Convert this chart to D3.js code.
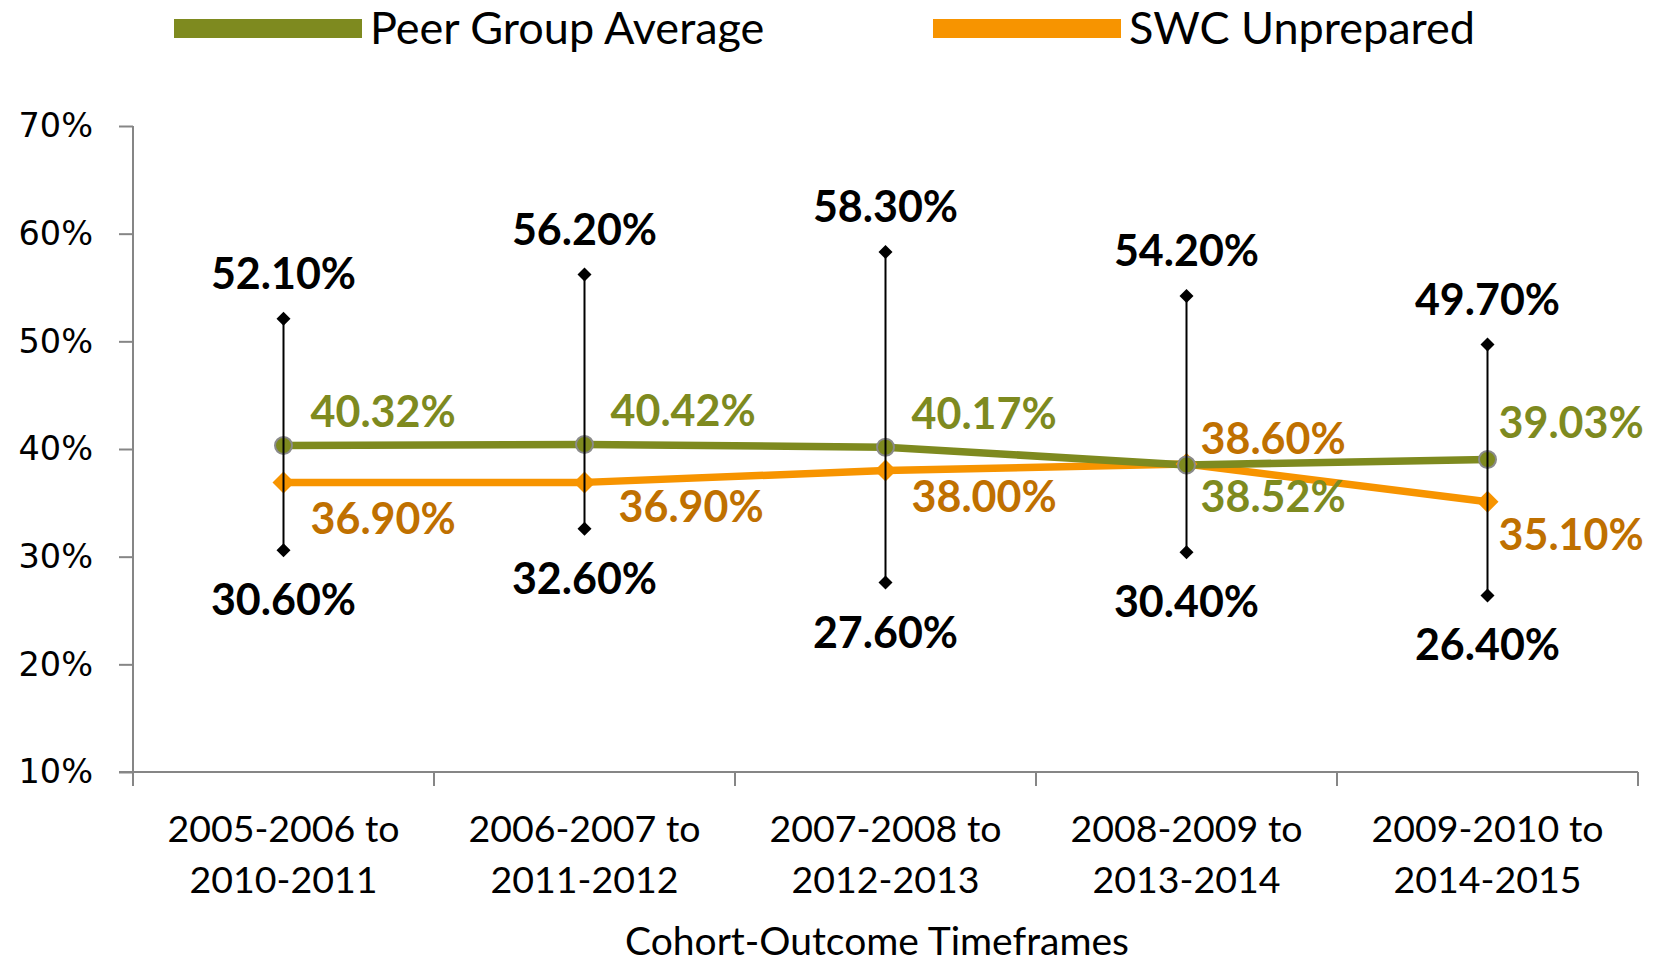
<!DOCTYPE html>
<html>
<head>
<meta charset="utf-8">
<script src="https://cdn.jsdelivr.net/npm/d3@7"></script>
<style>
  html, body { margin: 0; padding: 0; background: #fff; }
  svg { display: block; }
</style>
</head>
<body>
<svg id="chart" width="1670" height="966"></svg>
<script>
// ---- data ----
const categories = [
  ["2005-2006 to", "2010-2011"],
  ["2006-2007 to", "2011-2012"],
  ["2007-2008 to", "2012-2013"],
  ["2008-2009 to", "2013-2014"],
  ["2009-2010 to", "2014-2015"]
];
const peerAverage = [40.32, 40.42, 40.17, 38.52, 39.03];
const swcUnprepared = [36.90, 36.90, 38.00, 38.60, 35.10];
const rangeHigh = [52.10, 56.20, 58.30, 54.20, 49.70];
const rangeLow = [30.60, 32.60, 27.60, 30.40, 26.40];
const yTicks = [10, 20, 30, 40, 50, 60, 70];
const seriesNames = ["Peer Group Average", "SWC Unprepared"];
const xTitle = "Cohort-Outcome Timeframes";

// label placement (dx to label start, dy to label centre)
const peerLabelOffsets = [[27,-34],[26,-34],[26,-33],[14,32],[11,-36]];
const swcLabelOffsets = [[27,37],[34,25],[26,26],[14,-25],[11,33]];

// ---- styles ----
const GREEN = "#7E8A1F";
const ORANGE = "#F79400";
const ORANGE_TXT = "#BF7000";
const AXIS = "#868686";
const LABEL_FONT = "Lato, 'Open Sans', sans-serif";

const svg = d3.select("#chart");
const catKeys = categories.map((c, i) => i);

const x = d3.scaleBand().domain(catKeys).range([133, 1638]).padding(0);
const y = d3.scaleLinear().domain([10, 70]).range([772, 126]);
const cx = i => x(i) + x.bandwidth() / 2;

// ---- y axis ----
const yAxis = svg.append("g").attr("transform", "translate(133,0)")
  .call(d3.axisLeft(y).tickValues(yTicks).tickSize(14).tickPadding(26).tickFormat(d => d + "%"));
yAxis.select(".domain").attr("stroke", AXIS).attr("stroke-width", 2).attr("d", `M0,${y(70)}V${y(10)}`);
yAxis.selectAll(".tick line").attr("stroke", AXIS).attr("stroke-width", 2);
yAxis.selectAll(".tick text").attr("font-family", "'DejaVu Sans', Verdana, sans-serif")
  .attr("font-size", 33.5).attr("fill", "#000");

// ---- x axis ----
const xAxisG = svg.append("g").attr("transform", `translate(0,${y(10)})`);
xAxisG.append("line").attr("x1", 133 - 14).attr("x2", 1638).attr("y1", 0).attr("y2", 0)
  .attr("stroke", AXIS).attr("stroke-width", 2);
const boundaries = catKeys.map(i => x(i)).concat([x(catKeys.length - 1) + x.bandwidth()]);
xAxisG.selectAll("line.xt").data(boundaries).join("line").attr("class", "xt")
  .attr("x1", d => d).attr("x2", d => d).attr("y1", 0).attr("y2", 14)
  .attr("stroke", AXIS).attr("stroke-width", 2);
categories.forEach((lines, i) => {
  lines.forEach((t, j) => {
    xAxisG.append("text").attr("x", cx(i)).attr("y", 57 + j * 51).attr("dy", "0.35em")
      .attr("text-anchor", "middle").attr("font-family", LABEL_FONT)
      .attr("font-size", 37.5).attr("fill", "#000").text(t);
  });
});
svg.append("text").attr("x", 877).attr("y", 941).attr("dy", "0.35em")
  .attr("text-anchor", "middle").attr("font-family", LABEL_FONT)
  .attr("font-size", 39).attr("fill", "#000").text(xTitle);

// ---- lines ----
const line = d3.line().x((d, i) => cx(i)).y(d => y(d));
svg.append("path").datum(swcUnprepared).attr("d", line).attr("fill", "none")
  .attr("stroke", ORANGE).attr("stroke-width", 7.5).attr("stroke-linejoin", "round");
svg.append("path").datum(peerAverage).attr("d", line).attr("fill", "none")
  .attr("stroke", GREEN).attr("stroke-width", 7.5).attr("stroke-linejoin", "round");

// markers
const diamond = (s) => `M0,${-s}L${s},0L0,${s}L${-s},0Z`;
svg.selectAll("path.swcm").data(swcUnprepared).join("path").attr("class", "swcm")
  .attr("transform", (d, i) => `translate(${cx(i)},${y(d)})`)
  .attr("d", diamond(11)).attr("fill", ORANGE);
svg.selectAll("circle.peerm").data(peerAverage).join("circle").attr("class", "peerm")
  .attr("cx", (d, i) => cx(i)).attr("cy", d => y(d)).attr("r", 8.5)
  .attr("fill", GREEN).attr("stroke", "#8A8A8A").attr("stroke-width", 2);

// ---- range bars ----
catKeys.forEach(i => {
  svg.append("line").attr("x1", cx(i)).attr("x2", cx(i))
    .attr("y1", y(rangeHigh[i])).attr("y2", y(rangeLow[i]))
    .attr("stroke", "#000").attr("stroke-width", 2);
});
svg.selectAll("path.hi").data(rangeHigh).join("path").attr("class", "hi")
  .attr("transform", (d, i) => `translate(${cx(i)},${y(d)})`).attr("d", diamond(7)).attr("fill", "#000");
svg.selectAll("path.lo").data(rangeLow).join("path").attr("class", "lo")
  .attr("transform", (d, i) => `translate(${cx(i)},${y(d)})`).attr("d", diamond(7)).attr("fill", "#000");

const fmt = d => d.toFixed(2) + "%";
// ---- labels ----
svg.selectAll("text.hil").data(rangeHigh).join("text").attr("class", "hil")
  .attr("x", (d, i) => cx(i)).attr("y", d => y(d) - 45).attr("dy", "0.35em")
  .attr("text-anchor", "middle").attr("font-family", LABEL_FONT).attr("font-weight", 700)
  .attr("font-size", 43).attr("fill", "#000").text(fmt);
svg.selectAll("text.lol").data(rangeLow).join("text").attr("class", "lol")
  .attr("x", (d, i) => cx(i)).attr("y", d => y(d) + 50).attr("dy", "0.35em")
  .attr("text-anchor", "middle").attr("font-family", LABEL_FONT).attr("font-weight", 700)
  .attr("font-size", 43).attr("fill", "#000").text(fmt);
svg.selectAll("text.peerl").data(peerAverage).join("text").attr("class", "peerl")
  .attr("x", (d, i) => cx(i) + peerLabelOffsets[i][0]).attr("y", (d, i) => y(d) + peerLabelOffsets[i][1])
  .attr("dy", "0.35em").attr("font-family", LABEL_FONT).attr("font-weight", 700)
  .attr("font-size", 43).attr("fill", GREEN).text(fmt);
svg.selectAll("text.swcl").data(swcUnprepared).join("text").attr("class", "swcl")
  .attr("x", (d, i) => cx(i) + swcLabelOffsets[i][0]).attr("y", (d, i) => y(d) + swcLabelOffsets[i][1])
  .attr("dy", "0.35em").attr("font-family", LABEL_FONT).attr("font-weight", 700)
  .attr("font-size", 43).attr("fill", ORANGE_TXT).text(fmt);

// ---- legend ----
const legendItems = [
  { name: seriesNames[0], color: GREEN, x0: 174 },
  { name: seriesNames[1], color: ORANGE, x0: 933 }
];
legendItems.forEach(it => {
  svg.append("rect").attr("x", it.x0).attr("y", 19).attr("width", 188).attr("height", 19).attr("fill", it.color);
  svg.append("text").attr("x", it.x0 + 196).attr("y", 28).attr("dy", "0.35em")
    .attr("font-family", LABEL_FONT).attr("font-size", 45).attr("fill", "#000").text(it.name);
});
</script>
</body>
</html>
